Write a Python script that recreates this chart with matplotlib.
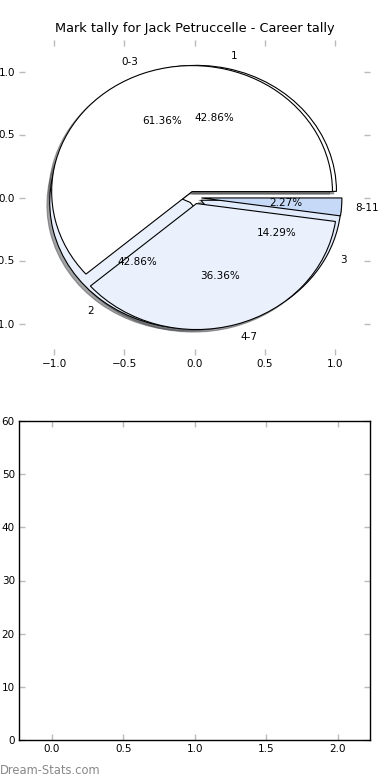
import matplotlib
matplotlib.use("Agg")
import matplotlib.pyplot as plt

# Data
range_labels = ["0-3", "4-7", "8-11"]
range_values = [27, 16, 1]
range_colors = ["#ffffff", "#eaf0fc", "#c6daf8"]

goal_labels = ["1", "2", "3"]
goal_values = [3, 3, 1]
goal_colors = ["#ffffff", "#eaf0fc", "#e2ebfb"]

title = "Mark tally for Jack Petruccelle - Career tally"
pie_ticks = [-1.0, -0.5, 0.0, 0.5, 1.0]
bar_xticks = [0.0, 0.5, 1.0, 1.5, 2.0]
bar_yticks = [0, 10, 20, 30, 40, 50, 60]

FS = 7.5
tick_color = "#bbbbbb"

fig = plt.figure(figsize=(3.9, 7.8), dpi=100)
ax1 = fig.add_axes([19/390, 1-355/780, 351/390, 315/780])
ax2 = fig.add_axes([19/390, 1-740/780, 351/390, 319/780])

wp = dict(edgecolor="black", linewidth=0.8)
sh = dict(ox=-0.0144, oy=-0.0144)
for vals, labs, cols in [(goal_values, goal_labels, goal_colors),
                         (range_values, range_labels, range_colors)]:
    wedges, texts, autotexts = ax1.pie(
        vals, labels=labs, colors=cols, explode=[0.05]*len(vals),
        autopct="%1.2f%%", shadow=sh, startangle=0,
        wedgeprops=wp, textprops=dict(fontsize=FS), frame=True)

ax1.set_aspect("auto")
ax1.set_xlim(-1.25, 1.25)
ax1.set_ylim(-1.25, 1.25)
ax1.set_frame_on(False)
ax1.set_xticks(pie_ticks)
ax1.set_yticks(pie_ticks)
ax1.set_title(title, fontsize=9.3)

ax2.set_xlim(-0.23, 2.225)
ax2.set_ylim(0, 60)
ax2.set_xticks(bar_xticks)
ax2.set_yticks(bar_yticks)

for ax in (ax1, ax2):
    ax.tick_params(direction="in", length=4, width=1, color=tick_color,
                   labelsize=FS, top=True, right=True, pad=3)
    for s in ax.spines.values():
        s.set_linewidth(1.0)

fig.text(0.0, 1-770/780, "Dream-Stats.com", fontsize=8.3, color="#888888",
         va="center", ha="left")

fig.savefig("out.png", dpi=100)
